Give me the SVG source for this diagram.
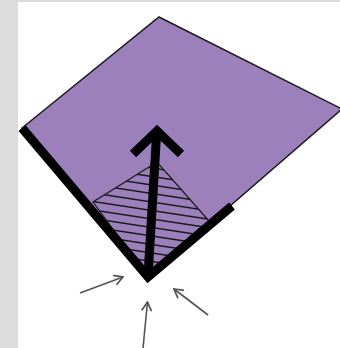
<svg xmlns="http://www.w3.org/2000/svg" width="340" height="348" viewBox="0 0 340 348">
  <defs>
    <style>
      .thick { fill: none; stroke: #000; stroke-width: 9; stroke-linejoin: miter; stroke-linecap: butt; }
      .hatch { stroke: #1a1a1a; stroke-width: 1.4; }
      .small { fill: none; stroke: #555; stroke-width: 1.6; marker-end: url(#open); }
    </style>
    <marker id="open" viewBox="0 0 10 10" refX="9" refY="5" markerWidth="11" markerHeight="11" markerUnits="userSpaceOnUse" orient="auto">
      <path d="M1,0.5 L9,5 L1,9.5" fill="none" stroke="#555" stroke-width="1.6"/>
    </marker>
    <clipPath id="hclip">
      <polygon points="157,162 93,202 148,277 209,221"/>
    </clipPath>
  </defs>
  <rect x="0" y="0" width="340" height="348" fill="#ffffff"/>
  <rect x="0" y="0" width="18" height="348" fill="#dcdcdc"/>
  <rect x="0" y="0" width="340" height="2" fill="#dcdcdc"/>

  <g id="room">
    <polygon points="159,17 342,109 148,277 22,128" fill="#9b80bc" stroke="#1a1a1a" stroke-width="1.5" stroke-linejoin="miter"/>
  </g>

  <g id="hatched-zone">
    <polygon points="157,162 93,202 148,277 209,221" fill="none" stroke="#1a1a1a" stroke-width="1.2"/>
    <g clip-path="url(#hclip)">
      <line class="hatch" x1="80" y1="157" x2="230" y2="180"/>
      <line class="hatch" x1="80" y1="165.5" x2="230" y2="188.5"/>
      <line class="hatch" x1="80" y1="174" x2="230" y2="197"/>
      <line class="hatch" x1="80" y1="182.5" x2="230" y2="205.5"/>
      <line class="hatch" x1="80" y1="191" x2="230" y2="214"/>
      <line class="hatch" x1="80" y1="199.5" x2="230" y2="222.5"/>
      <line class="hatch" x1="80" y1="208" x2="230" y2="231"/>
      <line class="hatch" x1="80" y1="216.5" x2="230" y2="239.5"/>
      <line class="hatch" x1="80" y1="225" x2="230" y2="248"/>
      <line class="hatch" x1="80" y1="233.5" x2="230" y2="256.5"/>
      <line class="hatch" x1="80" y1="242" x2="230" y2="265"/>
      <line class="hatch" x1="80" y1="250.5" x2="230" y2="273.5"/>
      <line class="hatch" x1="80" y1="259" x2="230" y2="282"/>
    </g>
  </g>

  <g id="walls">
    <polyline class="thick" points="22,128 148,277 232,206"/>
  </g>

  <g id="direction-arrow">
    <line class="thick" x1="148" y1="276" x2="156.5" y2="136"/>
    <polyline class="thick" points="133,154 157,131 181,154"/>
  </g>

  <g id="connectors">
    <line class="small" x1="80" y1="293" x2="123" y2="277"/>
    <line class="small" x1="143" y1="348" x2="147.5" y2="302"/>
    <line class="small" x1="208" y1="315" x2="174" y2="289"/>
  </g>
</svg>
